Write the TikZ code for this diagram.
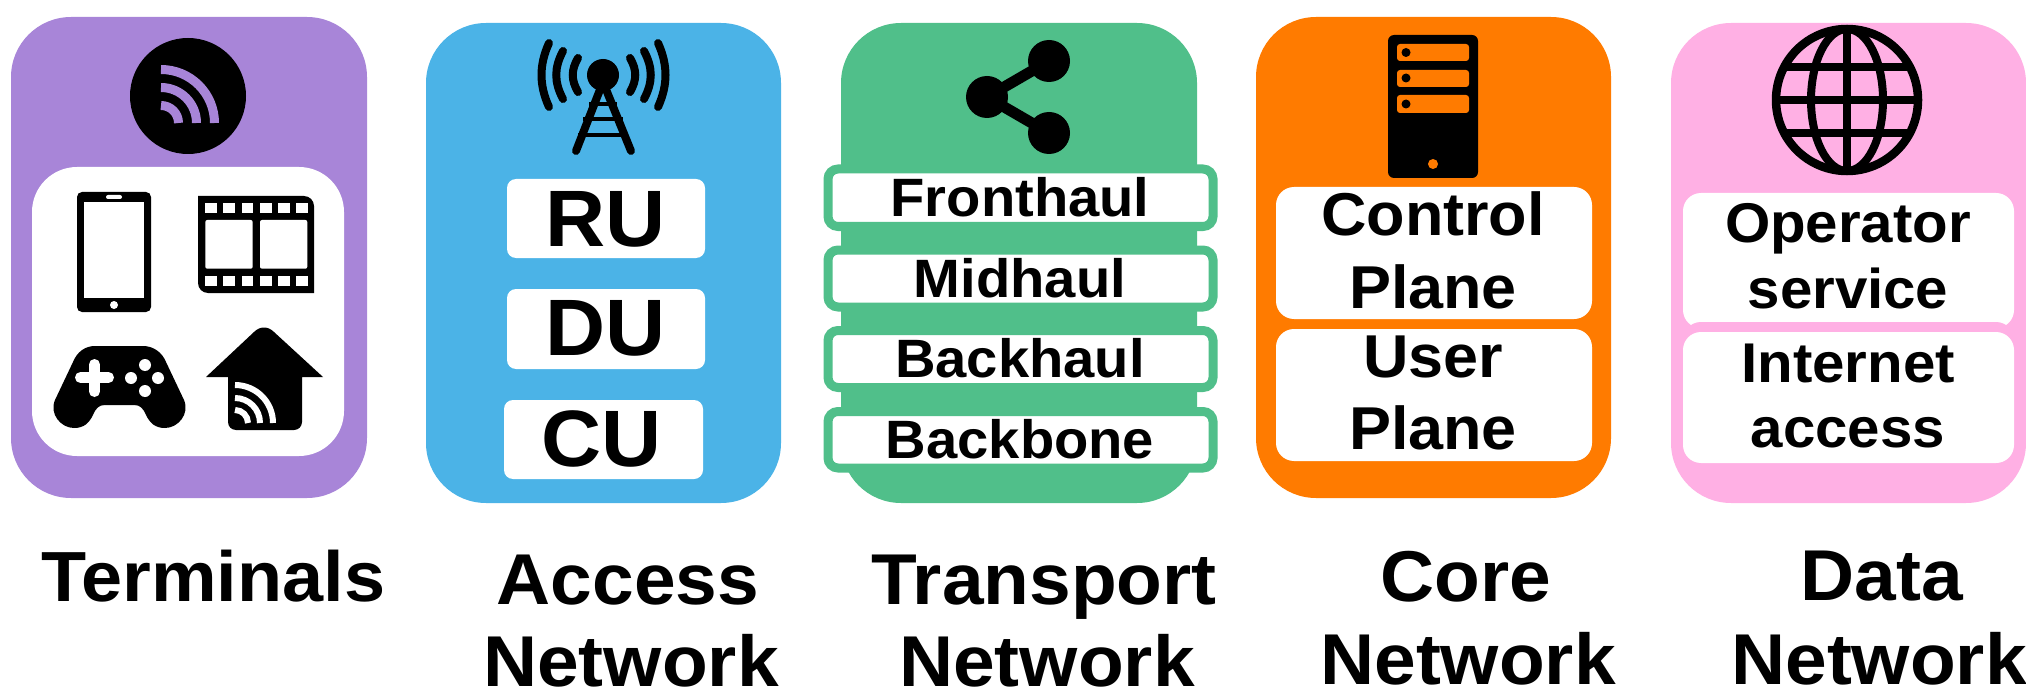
\documentclass[tikz,border=0pt]{standalone}
\usepackage{fontspec}
\setmainfont[BoldFeatures={FakeStretch=1.04}]{Liberation Sans}
\definecolor{cpurple}{HTML}{A885D8}
\definecolor{cblue}{HTML}{4BB3E7}
\definecolor{cgreen}{HTML}{50BF8A}
\definecolor{corange}{HTML}{FF7B00}
\definecolor{cpink}{HTML}{FFB0E4}
\tikzset{
  lab/.style={anchor=base,inner sep=0pt,font=\fontsize{#1}{#1}\selectfont\bfseries},
  panel/.style={rounded corners=60pt},
  whitebox/.style={fill=white,rounded corners=#1},
  haulbox/.style={fill=white,draw=cgreen,line width=9pt,rounded corners=10pt},
  ray/.style={draw=black,line width=8pt,line cap=round},
}
\begin{document}
\begin{tikzpicture}[x=1pt,y=-1pt]
\useasboundingbox (0,0) rectangle (2026,695);
% --- Terminals panel
\fill[cpurple,panel] (11,17) rectangle (367,498);
\fill[black] (188,96) circle (58);
\foreach \r in {53.5,35.5,17.5}{
  \draw[cpurple,line width=9pt] (161+\r,123) arc[start angle=0,end angle=-90,radius=\r];
}
\fill[whitebox=45pt] (32,167) rectangle (344,456);
% phone
\fill[black,rounded corners=5pt] (77,192) rectangle (151,312);
\fill[white] (84,202) rectangle (144,298);
\fill[white,rounded corners=2pt] (106,195) rectangle (122,199);
\fill[white] (114,305) circle (4);
% film
\fill[black] (198,196) -- (304,196) arc[start angle=-90,end angle=0,radius=10] -- (314,293) -- (208,293) arc[start angle=90,end angle=180,radius=10] -- cycle;
\foreach \x in {205,223.3,241.7,260,278.3,296}{
  \fill[white] (\x,203) rectangle +(11.5,10.5);
  \fill[white] (\x,275.7) rectangle +(11.5,10.5);
}
\fill[white,rounded corners=2pt] (205.3,220) rectangle (252.7,268.7);
\fill[white,rounded corners=2pt] (260,220) rectangle (307.3,268.7);
% gamepad
\fill[black] (95,346) -- (143,346) .. controls (153,346) and (162,352) .. (166,362)
  -- (184,400) .. controls (190,414) and (178,428) .. (165,428)
  .. controls (155,428) and (150,423) .. (146,415)
  .. controls (143,408) and (140,405) .. (134,405) -- (105,405)
  .. controls (99,405) and (96,408) .. (93,415)
  .. controls (89,423) and (84,428) .. (74,428)
  .. controls (61,428) and (49,414) .. (55,400)
  -- (73,362) .. controls (77,352) and (85,346) .. (95,346) -- cycle;
\draw[white,line width=11pt,line cap=round] (80.5,377.5) -- (108.5,377.5);
\draw[white,line width=11pt,line cap=round] (94.5,364.5) -- (94.5,391.5);
\foreach \p in {(145,365),(131,378),(158,378),(145,391)}{\fill[white] \p circle (6);}
% home
\fill[black] (206,377) -- (254,332) .. controls (260,326) and (268,326) .. (274,332) -- (323,377)
  -- (302,377) -- (302,422) arc[start angle=0,end angle=90,radius=8] -- (236,430) arc[start angle=90,end angle=180,radius=8] -- (228,377) -- cycle;
\foreach \r/\w in {38/6,25/6,13/6}{
  \draw[white,line width=\w pt] (235+\r,423) arc[start angle=0,end angle=-90,radius=\r];
}
% --- Access panel
\fill[cblue,panel] (426,23) rectangle (781,503);
\draw[ray] (549,43) .. controls (539,65) and (539,85) .. (549,107);
\draw[ray] (563,51) .. controls (554,68) and (554,82) .. (563,99);
\draw[ray] (578,58) .. controls (571,70) and (571,80) .. (578,92);
\draw[ray] (658,43) .. controls (668,65) and (668,85) .. (658,107);
\draw[ray] (644,51) .. controls (653,68) and (653,82) .. (644,99);
\draw[ray] (630,58) .. controls (637,70) and (637,80) .. (630,92);
\fill[black] (603,75) circle (16);
\draw[ray] (603,82) -- (576,151);
\draw[ray] (603,82) -- (631,151);
\draw[black,line width=4.5pt] (589,104) -- (617,104);
\draw[black,line width=4.5pt] (583,119) -- (623,119);
\draw[black,line width=4.5pt] (578,135) -- (628,135);
\fill[whitebox=9pt] (507,179) rectangle (705,258);
\fill[whitebox=9pt] (507,289) rectangle (705,369);
\fill[whitebox=9pt] (504,400) rectangle (703,479);
\node[lab=80] (ru) at (606,246) {RU};
\node[lab=80] (du) at (606,355) {DU};
\node[lab=80] (cu) at (602,466) {CU};
% --- Transport panel
\fill[cgreen,panel] (841,23) rectangle (1197,503);
\draw[black,line width=11pt] (1049,61) -- (987,97) -- (1049,133);
\fill[black] (1049,61) circle (21);
\fill[black] (987,97) circle (21);
\fill[black] (1049,133) circle (21);
\draw[haulbox] (828,169) rectangle (1213,226.5);
\draw[haulbox] (828,250) rectangle (1213,307);
\draw[haulbox] (828,330.5) rectangle (1213,387.5);
\draw[haulbox] (828,411.5) rectangle (1213,468);
\node[lab=54] (fh) at (1020,217) {Fronthaul};
\node[lab=54] (mh) at (1020,297) {Midhaul};
\node[lab=54] (bh) at (1020,377) {Backhaul};
\node[lab=54] (bb) at (1020,458) {Backbone};
% --- Core panel
\fill[corange,panel] (1256,17) rectangle (1611,498);
\fill[black,rounded corners=6pt] (1388,35) rectangle (1478,178);
\foreach \a/\b/\c in {44/61/52.5,70/87/78,95/113/104}{
  \fill[corange,rounded corners=3pt] (1397,\a) rectangle (1469,\b);
  \fill[black] (1406,\c) circle (4.5);
}
\fill[corange] (1433,164) circle (5);
\fill[whitebox=18pt] (1276,187) rectangle (1592,319);
\fill[whitebox=18pt] (1276,329) rectangle (1592,461);
\node[lab=60.5] (cp1) at (1433,236) {Control};
\node[lab=60.5] (cp2) at (1433,308) {Plane};
\node[lab=60.5] (up1) at (1433,377) {User};
\node[lab=60.5] (up2) at (1433,449) {Plane};
% --- Data panel
\fill[cpink,panel] (1671,23) rectangle (2026,503);
\begin{scope}
  \clip (1847,100) circle (72);
  \draw[black,line width=8pt] (1775,67) -- (1919,67);
  \draw[black,line width=8pt] (1775,133) -- (1919,133);
\end{scope}
\draw[black,line width=8pt] (1775,100) -- (1919,100);
\draw[black,line width=8pt] (1847,28) -- (1847,172);
\draw[black,line width=8pt] (1847,100) ellipse [x radius=36,y radius=71];
\draw[black,line width=8.5pt] (1847,100) circle (71);
\fill[whitebox=18pt] (1683,193) rectangle (2014,328);
\fill[cpink,rounded corners=18pt] (1683,322) rectangle (2014,400);
\fill[whitebox=18pt] (1683,332) rectangle (2014,463);
\node[lab=56] (op1) at (1848,243) {Operator};
\node[lab=56] (op2) at (1848,308) {service};
\node[lab=56] (ia1) at (1848,382) {Internet};
\node[lab=56] (ia2) at (1848,447) {access};
% --- Captions
\node[lab=71] (t1) at (213.5,601) {Terminals};
\node[lab=72] (a1) at (628,604) {Access};
\node[lab=72] (a2) at (631,686) {Network};
\node[lab=72] (tr1) at (1044,604) {Transport};
\node[lab=72] (tr2) at (1047,686) {Network};
\node[lab=72] (c1) at (1466,601) {Core};
\node[lab=72] (c2) at (1468,684) {Network};
\node[lab=72] (d1) at (1882,600) {Data};
\node[lab=72] (d2) at (1879,684) {Network};
\end{tikzpicture}
\end{document}
